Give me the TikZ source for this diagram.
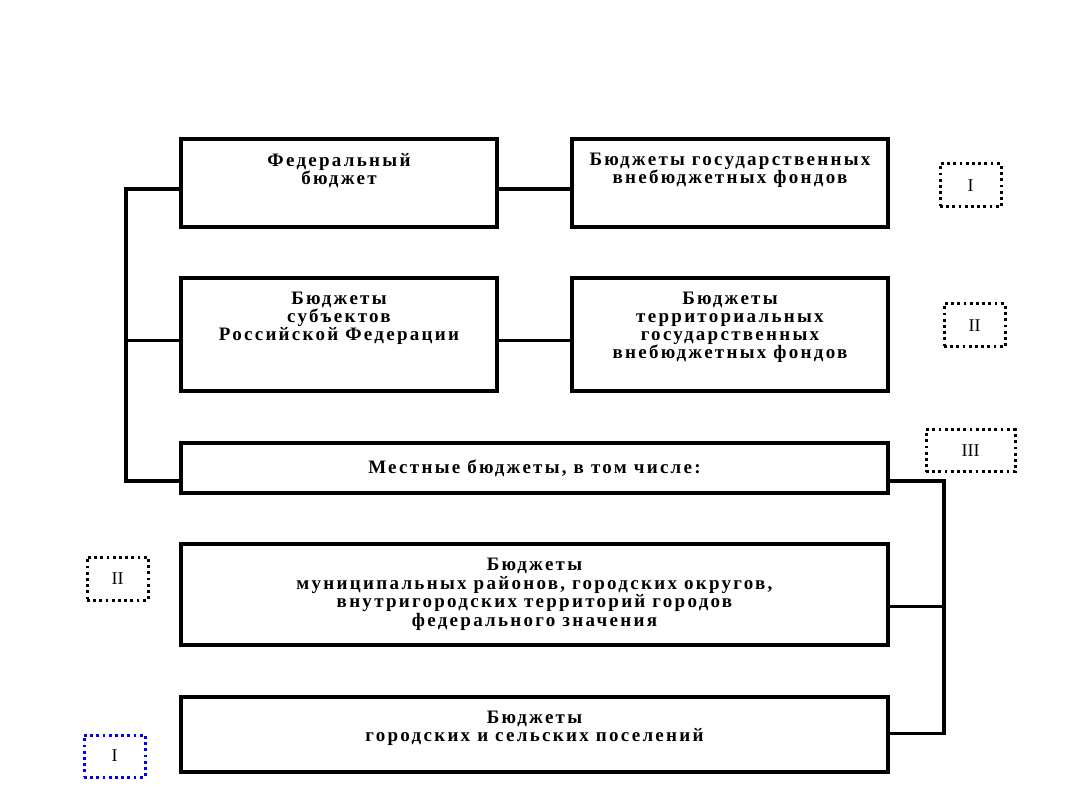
\documentclass[tikz,border=0pt]{standalone}
\usepackage{fontspec}
\setmainfont{Liberation Serif}
\newfontfamily\boxfont{Liberation Serif}[LetterSpace=12]
\usetikzlibrary{positioning}

\begin{document}
\begin{tikzpicture}[
    x=1pt, y=-1pt,
    budget/.style={rectangle, draw=black, line width=3.2pt, fill=white, anchor=north west, inner sep=0pt, outer sep=0pt},
    txt/.style={anchor=north, align=center, inner sep=0pt, font=\boxfont\bfseries\fontsize{19}{18}\selectfont},
    levelbox/.style={rectangle, draw=black, line width=3pt, dash pattern=on 2.8pt off 3.4pt, anchor=north west, inner sep=0pt, outer sep=0pt, font=\fontsize{18}{18}\selectfont},
    link/.style={draw=black, line width=3.2pt}
  ]
    \useasboundingbox (0,0) rectangle (1080,810);
    % upper level
    \node[budget, minimum width=316pt, minimum height=88pt, label={[txt, yshift=-14pt]north:Федеральный\\бюджет}] (fed) at (181,139) {};
    \node[budget, minimum width=316pt, minimum height=88pt, label={[txt, yshift=-14pt]north:Бюджеты государственных\\внебюджетных фондов}] (gos) at (572,139) {};
    \node[budget, minimum width=316pt, minimum height=113pt, label={[txt, yshift=-14pt]north:Бюджеты\\субъектов\\Российской Федерации}] (subj) at (181,278) {};
    \node[budget, minimum width=316pt, minimum height=113pt, label={[txt, yshift=-14pt]north:Бюджеты\\территориальных\\государственных\\внебюджетных фондов}] (terr) at (572,278) {};
    % local level
    \node[budget, minimum width=707pt, minimum height=50pt, label={[txt, anchor=center]center:Местные бюджеты, в том числе:}] (mest) at (181,443) {};
    \node[budget, minimum width=707pt, minimum height=101pt, label={[txt, anchor=center, font=\boxfont\bfseries\fontsize{19}{18.5}\selectfont]center:Бюджеты\\муниципальных районов, городских округов,\\внутригородских территорий городов\\федерального значения}] (mun) at (181,544) {};
    \node[budget, minimum width=707pt, minimum height=75pt, label={[txt, anchor=center, yshift=6pt]center:Бюджеты\\городских и сельских поселений}] (posel) at (181,697) {};
    % level marks
    \node[levelbox, minimum width=61pt, minimum height=43pt] (lvlA) at (940,164) {I};
    \node[levelbox, minimum width=61pt, minimum height=43pt] (lvlB) at (944,304) {II};
    \node[levelbox, minimum width=89pt, minimum height=42pt] (lvlC) at (926,430) {III};
    \node[levelbox, minimum width=61pt, minimum height=43pt] (lvlD) at (87,557) {II};
    \node[levelbox, draw=blue, minimum width=61pt, minimum height=42pt] (lvlE) at (84,735) {I};
    % connectors
    \draw[link] ([yshift=-6pt]fed.west) -- ++(-55,0) |- ([yshift=-13pt]mest.west);
    \draw[link] ([yshift=-6pt]subj.west) -- ++(-55,0);
    \draw[link] ([yshift=-6pt]fed.east) -- ([yshift=-6pt]gos.west);
    \draw[link] ([yshift=-6pt]subj.east) -- ([yshift=-6pt]terr.west);
    \draw[link] ([yshift=-13pt]mest.east) -- ++(56,0) |- ([yshift=1pt]posel.east);
    \draw[link] ([yshift=-12pt]mun.east) -- ++(56,0);
\end{tikzpicture}
\end{document}
